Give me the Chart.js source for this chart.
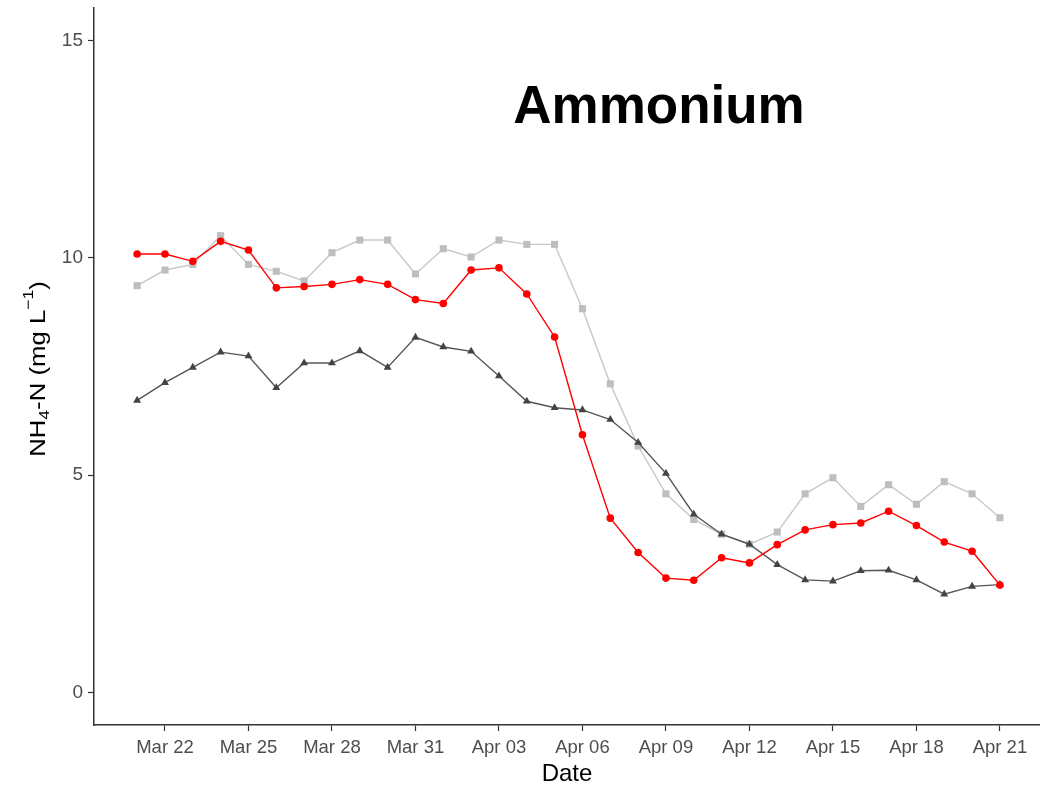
<!DOCTYPE html>
<html>
<head>
<meta charset="utf-8">
<title>Ammonium</title>
<script src="https://cdn.jsdelivr.net/npm/chart.js@4.4.1/dist/chart.umd.min.js"></script>
<style>
  html, body { margin: 0; padding: 0; background: #ffffff; }
  #wrap { width: 1040px; height: 791px; }
</style>
</head>
<body>
<div id="wrap"><canvas id="chart" width="1040" height="791"></canvas></div>
<script>
// Sampling dates, one per day (index 0 = Mar 21)
const dates = [
  'Mar 21','Mar 22','Mar 23','Mar 24','Mar 25','Mar 26','Mar 27','Mar 28','Mar 29','Mar 30','Mar 31',
  'Apr 01','Apr 02','Apr 03','Apr 04','Apr 05','Apr 06','Apr 07','Apr 08','Apr 09','Apr 10',
  'Apr 11','Apr 12','Apr 13','Apr 14','Apr 15','Apr 16','Apr 17','Apr 18','Apr 19','Apr 20','Apr 21'
];

// NH4-N concentrations (mg L-1)
const redSeries = [
  10.09, 10.09, 9.92, 10.38, 10.18, 9.31, 9.34, 9.39, 9.50, 9.39, 9.04,
  8.95, 9.72, 9.77, 9.17, 8.18, 5.93, 4.01, 3.22, 2.63, 2.58,
  3.10, 2.98, 3.40, 3.74, 3.86, 3.90, 4.17, 3.84, 3.46, 3.25, 2.47
];
const greySeries = [
  9.36, 9.72, 9.85, 10.51, 9.85, 9.69, 9.47, 10.12, 10.41, 10.41, 9.63,
  10.21, 10.02, 10.41, 10.31, 10.31, 8.83, 7.10, 5.67, 4.57, 3.98,
  3.64, 3.41, 3.69, 4.57, 4.94, 4.28, 4.78, 4.33, 4.85, 4.57, 4.02
];
const darkSeries = [
  6.72, 7.13, 7.48, 7.83, 7.74, 7.01, 7.58, 7.58, 7.86, 7.48, 8.17,
  7.95, 7.85, 7.28, 6.70, 6.55, 6.50, 6.28, 5.75, 5.04, 4.10,
  3.64, 3.41, 2.94, 2.59, 2.56, 2.80, 2.81, 2.59, 2.26, 2.44, 2.48
];

// Axis ticks
const xTickDays = [1, 4, 7, 10, 13, 16, 19, 22, 25, 28, 31];
const xTickLabels = ['Mar 22','Mar 25','Mar 28','Mar 31','Apr 03','Apr 06','Apr 09','Apr 12','Apr 15','Apr 18','Apr 21'];
const yTicks = [0, 5, 10, 15];

const toPoints = arr => arr.map((v, i) => ({ x: i, y: v }));

const AXIS_COLOR = '#333333';
const TICK_TEXT = '#4D4D4D';
const FONT = '"Liberation Sans", Arial, sans-serif';

// Rotated y-axis title with a subscript and a superscript
const yTitlePlugin = {
  id: 'yTitle',
  afterDraw(chart) {
    const { ctx } = chart;
    const cx = 39;
    const cy = 369;
    const size = 22;
    const small = 15;
    const stretch = 1.17;
    const parts = [
      { t: 'NH', f: size, dy: 0 },
      { t: '4', f: small, dy: 6 },
      { t: '-N (mg L', f: size, dy: 0 },
      { t: '\u22121', f: small, dy: -10 },
      { t: ')', f: size, dy: 0 }
    ];
    ctx.save();
    ctx.fillStyle = '#000000';
    ctx.textBaseline = 'middle';
    ctx.textAlign = 'left';
    let total = 0;
    parts.forEach(p => { ctx.font = `${p.f}px ${FONT}`; p.w = ctx.measureText(p.t).width; total += p.w; });
    ctx.translate(cx, cy);
    ctx.rotate(-Math.PI / 2);
    ctx.scale(stretch, 1);
    let x = -total / 2;
    parts.forEach(p => {
      ctx.font = `${p.f}px ${FONT}`;
      ctx.fillText(p.t, x, p.dy);
      x += p.w;
    });
    ctx.restore();
  }
};

// Panel heading placed inside the plotting area
const headingPlugin = {
  id: 'heading',
  afterDraw(chart) {
    const { ctx } = chart;
    const xs = chart.scales.x, ys = chart.scales.y;
    ctx.save();
    ctx.fillStyle = '#000000';
    ctx.font = `bold 53px ${FONT}`;
    ctx.textAlign = 'center';
    ctx.textBaseline = 'alphabetic';
    ctx.fillText('Ammonium', xs.getPixelForValue(18.75), ys.getPixelForValue(13.1));
    ctx.restore();
  }
};

const whiteBg = {
  id: 'whiteBg',
  beforeDraw(chart) {
    const { ctx, width, height } = chart;
    ctx.save();
    ctx.fillStyle = '#ffffff';
    ctx.fillRect(0, 0, width, height);
    ctx.restore();
  }
};

const noScalePadding = s => {
  s.paddingTop = 0; s.paddingBottom = 0; s.paddingLeft = 0; s.paddingRight = 0;
};

new Chart(document.getElementById('chart'), {
  type: 'line',
  data: {
    datasets: [
      {
        label: 'Red',
        data: toPoints(redSeries),
        borderColor: '#FF0000',
        backgroundColor: '#FF0000',
        borderWidth: 1.4,
        pointStyle: 'circle',
        pointRadius: 3.8,
        pointBorderWidth: 0,
        order: 1
      },
      {
        label: 'Dark',
        data: toPoints(darkSeries),
        borderColor: '#555555',
        backgroundColor: '#444444',
        borderWidth: 1.4,
        pointStyle: 'triangle',
        pointRadius: 4.6,
        pointBorderWidth: 0,
        order: 2
      },
      {
        label: 'Grey',
        data: toPoints(greySeries),
        borderColor: '#C8C8C8',
        backgroundColor: '#BEBEBE',
        borderWidth: 1.4,
        pointStyle: 'rect',
        pointRadius: 5,
        pointBorderWidth: 0,
        order: 3
      }
    ]
  },
  options: {
    responsive: false,
    animation: false,
    devicePixelRatio: 1,
    layout: { autoPadding: false, padding: { top: 8, right: 0, left: 0, bottom: 0 } },
    plugins: {
      legend: { display: false },
      tooltip: { enabled: false }
    },
    elements: { line: { tension: 0 } },
    scales: {
      x: {
        type: 'linear',
        min: -1.55,
        max: 32.44,
        afterBuildTicks: s => { s.ticks = xTickDays.map(v => ({ value: v })); },
        afterFit: s => { s.height = 66; noScalePadding(s); },
        ticks: {
          autoSkip: false,
          maxRotation: 0,
          color: TICK_TEXT,
          font: { family: FONT, size: 18.5 },
          padding: 6,
          callback: v => xTickLabels[xTickDays.indexOf(v)]
        },
        grid: { drawOnChartArea: false, drawTicks: true, tickLength: 6, color: AXIS_COLOR, tickWidth: 1.2 },
        border: { display: true, color: AXIS_COLOR, width: 1.5 },
        title: {
          display: true,
          text: 'Date',
          color: '#000000',
          font: { family: FONT, size: 24 },
          padding: { top: 0, bottom: 2 }
        }
      },
      y: {
        type: 'linear',
        min: -0.75,
        max: 15.75,
        afterBuildTicks: s => { s.ticks = yTicks.map(v => ({ value: v })); },
        afterFit: s => { s.width = 94; noScalePadding(s); },
        ticks: {
          color: TICK_TEXT,
          font: { family: FONT, size: 19 },
          padding: 5
        },
        grid: { drawOnChartArea: false, drawTicks: true, tickLength: 6, color: AXIS_COLOR, tickWidth: 1.2 },
        border: { display: true, color: AXIS_COLOR, width: 1.5 }
      }
    }
  },
  plugins: [whiteBg, yTitlePlugin, headingPlugin]
});
</script>
</body>
</html>
